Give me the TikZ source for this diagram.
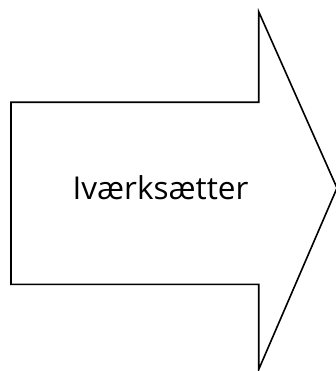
\documentclass[tikz,border=0pt]{standalone}
\usepackage{fontspec}
\setmainfont{Open Sans}
\begin{document}
\begin{tikzpicture}[x=1pt,y=-1pt,
  arrowshape/.style={draw=black,line width=1.6pt,line join=miter,fill=white},
  label/.style={font=\fontsize{31.5}{36}\selectfont,inner sep=0pt,anchor=base}]
\useasboundingbox (0,0) rectangle (336,371);
\draw[arrowshape] (11,102.3) -- (258.7,102.3) -- (258.7,11.7) -- (337,188) -- (258.7,369.5) -- (258.7,284.3) -- (11,284.3) -- cycle;
\node[label] (t) at (160.5,199) {Iværksætter};
\end{tikzpicture}
\end{document}
